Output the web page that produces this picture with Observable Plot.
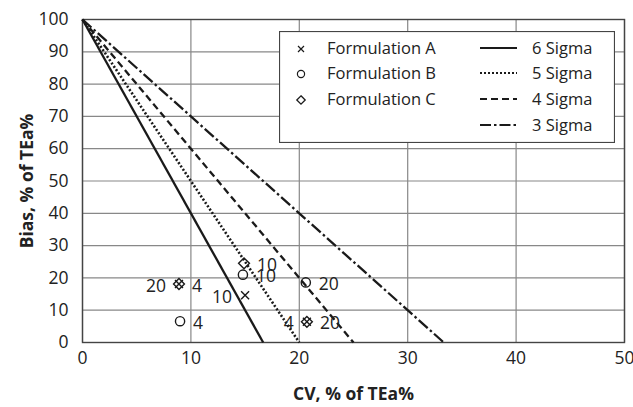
<!DOCTYPE html>
<html>
<head>
<meta charset="utf-8">
<script src="https://cdn.jsdelivr.net/npm/d3@7"></script>
<script src="https://cdn.jsdelivr.net/npm/@observablehq/plot@0.6"></script>
<style>
  html, body { margin: 0; padding: 0; background: #fff; }
  #wrap { position: relative; width: 633px; height: 407px; font-family: "Open Sans", sans-serif; }
  #wrap svg text { font-family: "Open Sans", sans-serif; }
  g[aria-label="x-axis label"] text, g[aria-label="y-axis label"] text { font-weight: bold; fill: #222; }
  #legend { position: absolute; left: 279px; top: 31px; }
</style>
</head>
<body>
<div id="wrap"></div>
<script>
// ---- Data ----
const formulations = ["Formulation A", "Formulation B", "Formulation C"];
const formulationSymbols = ["times", "circle", "diamond2"];
const formulationLabelSide = ["left", "right", "right"];

// points per formulation: concentration label, CV, Bias
const pointsA_label = ["4", "10", "20"];
const pointsA_cv    = [20.7, 15.0, 8.9];
const pointsA_bias  = [6.4, 14.6, 18.1];

const pointsB_label = ["4", "10", "20"];
const pointsB_cv    = [9.0, 14.8, 20.6];
const pointsB_bias  = [6.6, 21.0, 18.6];

const pointsC_label = ["4", "10", "20"];
const pointsC_cv    = [8.9, 14.9, 20.7];
const pointsC_bias  = [18.1, 24.5, 6.4];

// sigma lines: from (CV 0, Bias 100) to (CV intercept, Bias 0)
const sigmaNames       = ["6 Sigma", "5 Sigma", "4 Sigma", "3 Sigma"];
const sigmaCVIntercept = [16.67, 20, 25, 33.33];
const sigmaDash        = [null, "2,2", "7,4", "12,3,2.5,3"];

const xTicks = [0, 10, 20, 30, 40, 50];
const yTicks = [0, 10, 20, 30, 40, 50, 60, 70, 80, 90, 100];

// ---- Build tables ----
const groups = [
  {label: pointsA_label, cv: pointsA_cv, bias: pointsA_bias},
  {label: pointsB_label, cv: pointsB_cv, bias: pointsB_bias},
  {label: pointsC_label, cv: pointsC_cv, bias: pointsC_bias}
].map((g, gi) => g.label.map((l, i) => ({
  formulation: formulations[gi], label: l, cv: g.cv[i], bias: g.bias[i]
})));

const ink = "#1a1a1a";
const textInk = "#222";
const marks = [
  Plot.gridX(xTicks, {stroke: "#888", strokeOpacity: 1, strokeWidth: 1.2}),
  Plot.gridY(yTicks, {stroke: "#888", strokeOpacity: 1, strokeWidth: 1.2}),
  Plot.frame({stroke: "#444", strokeWidth: 1.4}),
  Plot.axisX(xTicks, {tickSize: 0, tickPadding: 9, fontSize: 17.5, fill: textInk,
    label: "CV, % of TEa%", labelAnchor: "center", labelOffset: 57, labelArrow: false}),
  Plot.axisY(yTicks, {tickSize: 0, tickPadding: 14, fontSize: 17.5, fill: textInk,
    label: "Bias, % of TEa%", labelAnchor: "center", labelOffset: 62, labelArrow: false})
];

sigmaNames.forEach((name, i) => {
  marks.push(Plot.line([{cv: 0, bias: 100}, {cv: sigmaCVIntercept[i], bias: 0}], {
    x: "cv", y: "bias", stroke: ink, strokeWidth: i === 1 ? 2.6 : 2.3,
    strokeDasharray: sigmaDash[i] || undefined, strokeLinecap: "butt"
  }));
});

const symR = {times: 3.7, circle: 4.6, diamond2: 4.9};
groups.forEach((data, gi) => {
  const sym = formulationSymbols[gi];
  marks.push(Plot.dot(data, {
    x: "cv", y: "bias", symbol: () => sym, r: symR[sym],
    stroke: ink, strokeWidth: 1.4, fill: "none"
  }));
  const left = formulationLabelSide[gi] === "left";
  marks.push(Plot.text(data, {
    x: "cv", y: "bias", text: "label", dx: left ? -13 : 13, dy: 2,
    textAnchor: left ? "end" : "start", fontSize: 17.5, fill: textInk
  }));
});

const chart = Plot.plot({
  width: 633, height: 407,
  marginLeft: 82, marginRight: 9, marginTop: 19, marginBottom: 65,
  x: {domain: [0, 50]},
  y: {domain: [0, 100]},
  style: {fontFamily: "Open Sans, sans-serif", background: "#fff", overflow: "visible"},
  marks
});
document.getElementById("wrap").appendChild(chart);

// ---- Legend (overlay) ----
const lw = 336, lh = 112;
const leg = d3.select("#wrap").append("svg").attr("id", "legend")
  .attr("width", lw).attr("height", lh);
leg.append("rect").attr("x", 0.5).attr("y", 0.5).attr("width", lw - 1).attr("height", lh - 1)
  .attr("fill", "#fff").attr("stroke", "#444").attr("stroke-width", 1.2);
const rowY = [17, 42, 68, 94];
const legSym = {times: 3, circle: 3.6, diamond2: 4.2};
formulations.forEach((f, i) => {
  const sym = formulationSymbols[i];
  const s = legSym[sym];
  const g = leg.append("g").attr("transform", `translate(22,${rowY[i] + 1})`);
  if (sym === "circle") g.append("circle").attr("r", s).attr("fill", "none").attr("stroke", ink).attr("stroke-width", 1.2);
  else if (sym === "times") g.append("path").attr("d", `M${-s},${-s}L${s},${s}M${-s},${s}L${s},${-s}`).attr("stroke", ink).attr("stroke-width", 1.2);
  else g.append("path").attr("d", `M0,${-s}L${s},0L0,${s}L${-s},0Z`).attr("fill", "none").attr("stroke", ink).attr("stroke-width", 1.3);
  leg.append("text").attr("x", 48).attr("y", rowY[i]).attr("dy", "0.35em")
    .attr("font-size", 16.5).attr("fill", textInk).text(f);
});
sigmaNames.forEach((n, i) => {
  leg.append("line").attr("x1", 201).attr("x2", 238).attr("y1", rowY[i]).attr("y2", rowY[i])
    .attr("stroke", ink).attr("stroke-width", 2.2)
    .attr("stroke-dasharray", sigmaDash[i] ? (i === 3 ? "11,3,2.5,3" : sigmaDash[i]) : null);
  leg.append("text").attr("x", 253).attr("y", rowY[i]).attr("dy", "0.35em")
    .attr("font-size", 16.5).attr("fill", textInk).text(n);
});
</script>
</body>
</html>
